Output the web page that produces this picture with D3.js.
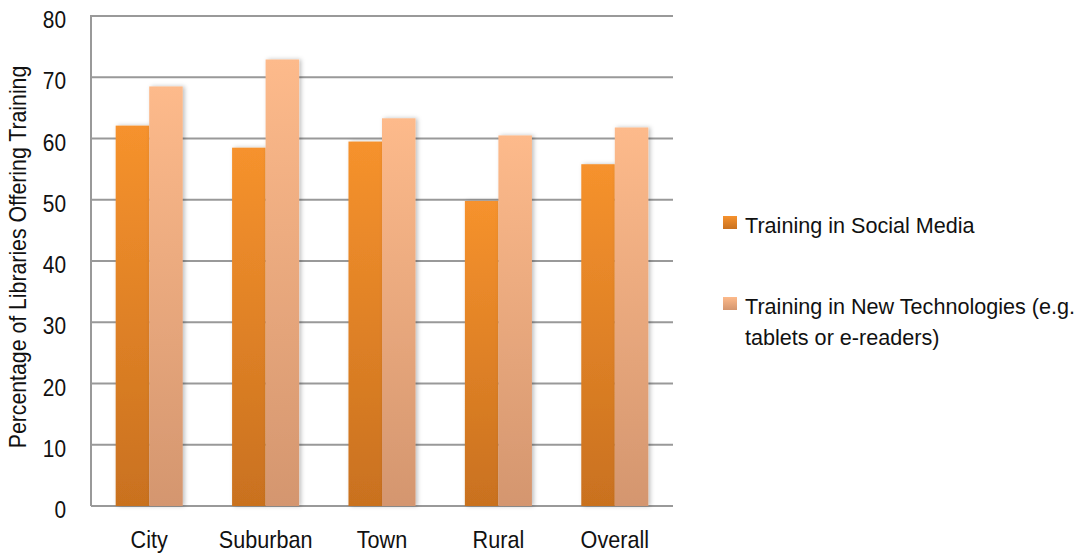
<!DOCTYPE html>
<html>
<head>
<meta charset="utf-8">
<script src="https://cdn.jsdelivr.net/npm/d3@7"></script>
<style>
    body { margin: 0; background: #fff; }
    text { font-family: "Liberation Sans", Arial, sans-serif; fill: #111; }
</style>
</head>
<body>
<div id="chart"></div>
<script>
const categories = ['City', 'Suburban', 'Town', 'Rural', 'Overall'];
const socialMedia = [62.1, 58.5, 59.5, 49.8, 55.8];
const newTech = [68.5, 72.9, 63.3, 60.5, 61.8];
const seriesNames = ['Training in Social Media', 'Training in New Technologies (e.g. tablets or e-readers)'];
const yTicks = [0, 10, 20, 30, 40, 50, 60, 70, 80];

const width = 1084;
const height = 556;
const plot = { left: 91, right: 673, top: 16, bottom: 506 };

const svg = d3.select('#chart').append('svg')
    .attr('width', width)
    .attr('height', height);

const defs = svg.append('defs');

function addGradient(id, top, bottom) {
    const g = defs.append('linearGradient')
        .attr('id', id)
        .attr('x1', 0).attr('y1', 0).attr('x2', 0).attr('y2', 1);
    g.append('stop').attr('offset', '0%').attr('stop-color', top);
    g.append('stop').attr('offset', '100%').attr('stop-color', bottom);
}
addGradient('gradOrange', '#f6922d', '#c9711f');
addGradient('gradPeach', '#fdba8b', '#d4966f');

const shadow = defs.append('filter').attr('id', 'shadow')
    .attr('x', '-20%').attr('y', '-5%').attr('width', '150%').attr('height', '110%');
shadow.append('feDropShadow')
    .attr('dx', 2).attr('dy', 0).attr('stdDeviation', 2)
    .attr('flood-color', '#000').attr('flood-opacity', 0.25);

// the original uses a narrow font, so squeeze the text horizontally
function condense(sel, sx) {
    sel.each(function () {
        const t = d3.select(this);
        const x = +(t.attr('x') || 0);
        t.attr('x', x / sx).attr('transform', `scale(${sx},1)`);
    });
}

const yScale = d3.scaleLinear()
    .domain([0, 80])
    .range([plot.bottom, plot.top]);

const xScale = d3.scaleBand()
    .domain(categories)
    .range([plot.left, plot.right])
    .paddingInner(0.424)
    .paddingOuter(0.212);

const subScale = d3.scaleBand()
    .domain([0, 1])
    .range([0, xScale.bandwidth()]);

// gridlines
svg.append('g')
    .selectAll('line')
    .data(yTicks)
    .enter().append('line')
    .attr('x1', plot.left)
    .attr('x2', plot.right)
    .attr('y1', d => yScale(d))
    .attr('y2', d => yScale(d))
    .attr('stroke', '#999')
    .attr('stroke-width', 2);

svg.append('line')
    .attr('x1', plot.left).attr('x2', plot.left)
    .attr('y1', plot.top - 1).attr('y2', plot.bottom)
    .attr('stroke', '#999')
    .attr('stroke-width', 2);

// bars
const seriesValues = [socialMedia, newTech];
const fills = ['url(#gradOrange)', 'url(#gradPeach)'];

const barGroup = svg.append('g');
seriesValues.forEach((values, s) => {
    barGroup.append('g')
        .selectAll('rect')
        .data(values)
        .enter().append('rect')
        .attr('x', (d, i) => xScale(categories[i]) + subScale(s))
        .attr('y', d => yScale(d))
        .attr('width', subScale.bandwidth())
        .attr('height', d => yScale(0) - yScale(d))
        .attr('fill', fills[s])
        .attr('filter', 'url(#shadow)');
});

// y axis labels
const yAxis = d3.axisLeft(yScale)
    .tickValues(yTicks)
    .tickSize(0)
    .tickPadding(25);

const yAxisG = svg.append('g')
    .attr('transform', `translate(${plot.left},0)`)
    .call(yAxis);
yAxisG.select('.domain').remove();
yAxisG.selectAll('text')
    .style('font-size', '24px')
    .attr('y', 4)
    .attr('fill', '#111')
    .call(condense, 0.87);

// x axis labels
const xAxis = d3.axisBottom(xScale)
    .tickSize(0)
    .tickPadding(25);

const xAxisG = svg.append('g')
    .attr('transform', `translate(0,${plot.bottom})`)
    .call(xAxis);
xAxisG.select('.domain').remove();
xAxisG.selectAll('text')
    .style('font-size', '24px')
    .attr('fill', '#111')
    .call(condense, 0.9);

// y axis title
svg.append('text')
    .attr('transform', `translate(26,257) rotate(-90) scale(0.925,1)`)
    .attr('text-anchor', 'middle')
    .style('font-size', '23px')
    .text('Percentage of Libraries Offering Training');

// legend
const legend = svg.append('g');
const legendItems = [
    { y: 216, base: 233, fill: fills[0], lines: [seriesNames[0]] },
    { y: 297, base: 314, fill: fills[1], lines: ['Training in New Technologies (e.g.', 'tablets or e-readers)'] }
];
legendItems.forEach(item => {
    legend.append('rect')
        .attr('x', 723)
        .attr('y', item.y)
        .attr('width', 14)
        .attr('height', 13)
        .attr('fill', item.fill);
    const t = legend.append('text')
        .attr('transform', `translate(745,${item.base}) scale(0.96,1)`)
        .style('font-size', '22.5px');
    item.lines.forEach((line, i) => {
        t.append('tspan')
            .attr('x', 0)
            .attr('y', i * 31)
            .text(line);
    });
});
</script>
</body>
</html>
